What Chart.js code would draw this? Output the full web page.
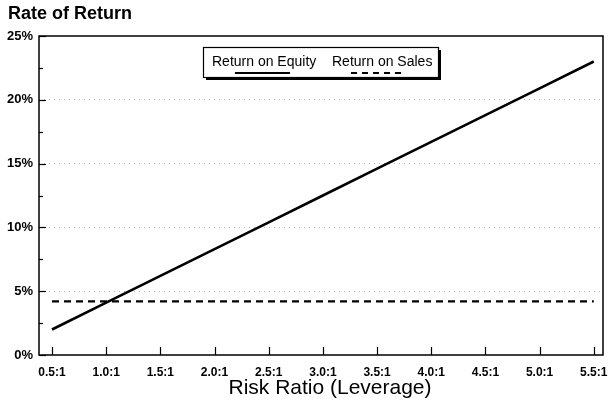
<!DOCTYPE html>
<html>
<head>
<meta charset="utf-8">
<script src="https://cdn.jsdelivr.net/npm/chart.js@4/dist/chart.umd.min.js"></script>
<style>
  html, body { margin: 0; padding: 0; background: #fff; }
  #wrap { width: 609px; height: 406px; position: relative; }
</style>
</head>
<body>
<div id="wrap"><canvas id="c" width="609" height="406"></canvas></div>
<script>
// ---- Data ----
const leverage = [0.5, 1.0, 1.5, 2.0, 2.5, 3.0, 3.5, 4.0, 4.5, 5.0, 5.5];
const tickLabels = ['0.5:1', '1.0:1', '1.5:1', '2.0:1', '2.5:1', '3.0:1', '3.5:1', '4.0:1', '4.5:1', '5.0:1', '5.5:1'];
const returnOnEquity = [2.0, 4.1, 6.2, 8.3, 10.4, 12.5, 14.6, 16.7, 18.8, 20.9, 23.0];
const returnOnSales = [4.2, 4.2, 4.2, 4.2, 4.2, 4.2, 4.2, 4.2, 4.2, 4.2, 4.2];
const yTickValues = [0, 5, 10, 15, 20, 25];
const seriesNames = ['Return on Equity', 'Return on Sales'];
const yTitle = 'Rate of Return';
const xTitle = 'Risk Ratio (Leverage)';

const FONT = "'Liberation Sans', Arial, Helvetica, sans-serif";

const toPoints = (xs, ys) => xs.map((x, i) => ({ x: x, y: ys[i] }));

const customDraw = {
  id: 'customDraw',
  afterDatasetsDraw(chart) {
    const ctx = chart.ctx;
    const a = chart.chartArea;
    const xs = chart.scales.x, ys = chart.scales.y;
    ctx.save();
    // plot border
    ctx.strokeStyle = '#000';
    ctx.lineWidth = 1.5;
    ctx.strokeRect(a.left, a.top, a.right - a.left, a.bottom - a.top);
    // y ticks (inward), major and minor
    ctx.lineWidth = 1.2;
    for (let v = 0; v <= 25; v += 2.5) {
      const py = Math.round(ys.getPixelForValue(v)) + 0.5;
      const len = (v % 5 === 0) ? 7 : 4;
      ctx.beginPath();
      ctx.moveTo(a.left, py);
      ctx.lineTo(a.left + len, py);
      ctx.stroke();
    }
    // x ticks (upward)
    leverage.forEach(v => {
      const px = Math.round(xs.getPixelForValue(v)) + 0.5;
      ctx.beginPath();
      ctx.moveTo(px, a.bottom);
      ctx.lineTo(px, a.bottom - 8);
      ctx.stroke();
    });
    // top-left axis title
    ctx.fillStyle = '#000';
    ctx.font = 'bold 18px ' + FONT;
    ctx.textBaseline = 'middle';
    ctx.textAlign = 'left';
    ctx.fillText(yTitle, 8, 14);

    // bottom axis title
    ctx.font = '21px ' + FONT;
    ctx.textAlign = 'center';
    ctx.fillText(xTitle, 330, 388);

    // legend box with shadow
    const bx = 203, by = 47, bw = 235, bh = 30;
    ctx.fillStyle = '#000';
    ctx.fillRect(bx + 3, by + 3, bw, bh);
    ctx.fillStyle = '#fff';
    ctx.fillRect(bx, by, bw, bh);
    ctx.strokeStyle = '#000';
    ctx.lineWidth = 1.2;
    ctx.strokeRect(bx + 0.5, by + 0.5, bw, bh);
    ctx.fillStyle = '#000';
    ctx.font = '14px ' + FONT;
    ctx.textAlign = 'left';
    ctx.fillText(seriesNames[0], 212, 62);
    ctx.fillText(seriesNames[1], 332, 62);
    ctx.lineWidth = 2;
    ctx.beginPath();
    ctx.moveTo(235, 73); ctx.lineTo(290, 73);
    ctx.stroke();
    ctx.setLineDash([6, 5]);
    ctx.beginPath();
    ctx.moveTo(351, 73); ctx.lineTo(403, 73);
    ctx.stroke();
    ctx.restore();
  }
};

new Chart(document.getElementById('c'), {
  type: 'line',
  data: {
    datasets: [
      {
        label: seriesNames[0],
        data: toPoints(leverage, returnOnEquity),
        borderColor: '#000',
        borderWidth: 2.6,
        pointRadius: 0,
        tension: 0,
        fill: false
      },
      {
        label: seriesNames[1],
        data: toPoints(leverage, returnOnSales),
        borderColor: '#000',
        borderWidth: 2.2,
        borderDash: [7, 5],
        pointRadius: 0,
        tension: 0,
        fill: false
      }
    ]
  },
  options: {
    responsive: false,
    animation: false,
    devicePixelRatio: 1,
    layout: { autoPadding: false, padding: { top: 36, right: 6, left: 0, bottom: 0 } },
    plugins: {
      legend: { display: false },
      title: { display: false },
      tooltip: { enabled: false }
    },
    scales: {
      x: {
        type: 'linear',
        min: 0.38,
        max: 5.585,
        afterBuildTicks(scale) {
          scale.ticks = leverage.map(v => ({ value: v }));
        },
        afterFit(scale) {
          scale.height = 51;
          scale.paddingLeft = 0;
          scale.paddingRight = 0;
        },
        border: { display: false },
        grid: { display: false, drawTicks: false },
        ticks: {
          padding: 10,
          color: '#000',
          maxRotation: 0,
          autoSkip: false,
          font: { family: FONT, size: 12, weight: 'bold' },
          callback: (v) => {
            const i = leverage.indexOf(v);
            return i >= 0 ? tickLabels[i] : '';
          }
        },
        title: { display: false }
      },
      y: {
        min: 0,
        max: 25,
        afterFit(scale) { scale.width = 39; },
        border: { display: false, dash: [1, 4] },
        grid: {
          drawTicks: false,
          color: (c) => (c.tick && c.tick.value > 0 && c.tick.value < 25) ? '#b0b0b0' : 'rgba(0,0,0,0)',
          lineWidth: 1,
          borderDash: [1, 4]
        },
        afterBuildTicks(scale) {
          scale.ticks = yTickValues.map(v => ({ value: v }));
        },
        ticks: {
          padding: 6,
          color: '#000',
          font: { family: FONT, size: 13, weight: 'bold' },
          callback: (v) => v + '%'
        }
      }
    }
  },
  plugins: [customDraw]
});
</script>
</body>
</html>
